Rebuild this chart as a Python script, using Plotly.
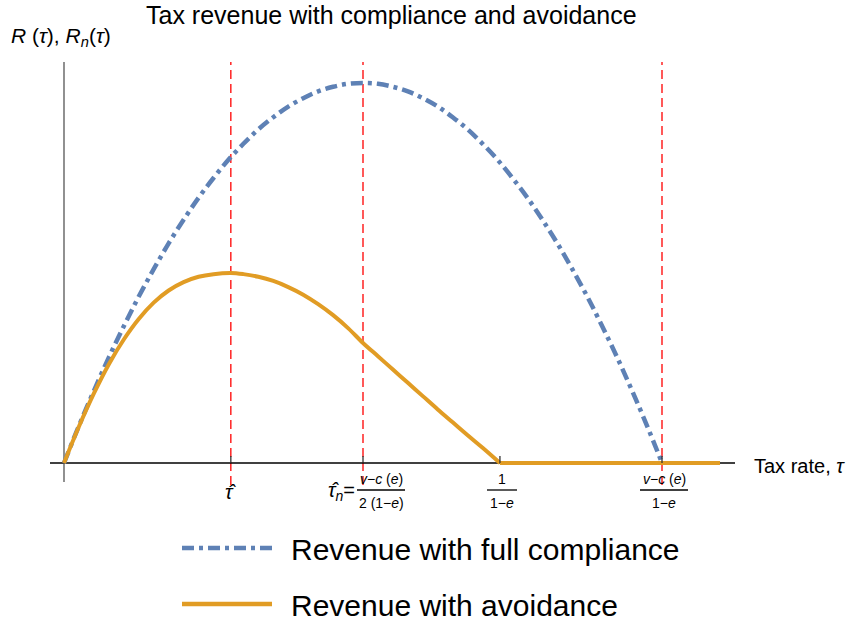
import plotly.graph_objects as go

# ---------------- data ----------------
tau_full = [0.0, 0.025, 0.05, 0.075, 0.10, 0.125, 0.15, 0.175, 0.20, 0.225, 0.25,
            0.275, 0.30, 0.325, 0.35, 0.375, 0.40, 0.425, 0.45, 0.475, 0.50,
            0.525, 0.55, 0.575, 0.60, 0.625, 0.65, 0.675, 0.70, 0.725, 0.75,
            0.775, 0.80, 0.825, 0.85, 0.875, 0.90, 0.925, 0.95, 0.975, 1.00]
rev_full = [0.0, 0.098, 0.19, 0.278, 0.36, 0.438, 0.51, 0.578, 0.64, 0.698, 0.75,
            0.798, 0.84, 0.878, 0.91, 0.938, 0.96, 0.978, 0.99, 0.998, 1.00,
            0.998, 0.99, 0.978, 0.96, 0.938, 0.91, 0.878, 0.84, 0.798, 0.75,
            0.698, 0.64, 0.578, 0.51, 0.438, 0.36, 0.278, 0.19, 0.098, 0.0]

tau_avoid = [0.0, 0.025, 0.05, 0.075, 0.10, 0.125, 0.15, 0.175, 0.20, 0.225, 0.25,
             0.279, 0.30, 0.325, 0.35, 0.375, 0.40, 0.425, 0.45, 0.475, 0.50,
             0.525, 0.55, 0.575, 0.60, 0.625, 0.65, 0.675, 0.70, 0.729, 1.097]
rev_avoid = [0.0, 0.096, 0.183, 0.26, 0.325, 0.379, 0.422, 0.454, 0.476, 0.49, 0.497,
             0.50, 0.497, 0.49, 0.479, 0.463, 0.443, 0.418, 0.389, 0.355, 0.316,
             0.281, 0.246, 0.211, 0.176, 0.141, 0.107, 0.073, 0.04, 0.0, 0.0]

tick_positions = [0.279, 0.50, 0.729, 1.00]          # tau_hat, tau_hat_n, 1/(1-e), (v-c(e))/(1-e)
gridline_positions = [0.279, 0.50, 1.00]

series_names = ["Revenue with full compliance", "Revenue with avoidance"]
title_text = "Tax revenue with compliance and avoidance"
x_label = "Tax rate, <i>τ</i>"
y_label = "<i>R</i> (<i>τ</i>), <i>R<sub>n</sub></i>(<i>τ</i>)"

# ---------------- styling ----------------
W, H = 853, 625
BLUE = "#5E81B5"
ORANGE = "#E19C24"
FONT = "Liberation Sans, Arial, sans-serif"
BLUE_DASH = "12px,5px,4px,5px"

# pixel mapping of the frame (plot area covers whole figure)
X0PX, XSCALE = 64, 598.0
Y0PX, YSCALE = 463, 380.0
xr = [(0 - X0PX) / XSCALE, (W - X0PX) / XSCALE]
yr = [(Y0PX - H) / YSCALE, Y0PX / YSCALE]


def dy(py):
    return (Y0PX - py) / YSCALE


def dx(px):
    return (px - X0PX) / XSCALE


def pxp(px):
    return px / W


def pyp(py):
    return 1 - py / H


fig = go.Figure()

fig.add_trace(go.Scatter(x=tau_full, y=rev_full, mode="lines", name=series_names[0],
                         line=dict(color=BLUE, width=4.5, dash=BLUE_DASH,
                                   shape="spline", smoothing=1.0),
                         hoverinfo="skip", showlegend=False))

# avoidance curve: smooth hump up to where it reaches zero, then the flat tail
k0 = rev_avoid.index(0.0, 1)
fig.add_trace(go.Scatter(x=tau_avoid[:k0 + 1], y=rev_avoid[:k0 + 1], mode="lines",
                         name=series_names[1],
                         line=dict(color=ORANGE, width=4, shape="spline", smoothing=1.0),
                         hoverinfo="skip", showlegend=False))
fig.add_trace(go.Scatter(x=tau_avoid[k0:], y=rev_avoid[k0:], mode="lines",
                         name=series_names[1],
                         line=dict(color=ORANGE, width=4),
                         hoverinfo="skip", showlegend=False))

shapes = []
# red dashed guide lines
for g in gridline_positions:
    shapes.append(dict(type="line", xref="x", yref="y", x0=g, x1=g, y0=dy(485), y1=dy(62),
                       line=dict(color="#FF0000", width=1.3, dash="9px,5px"), layer="below"))
# axes
shapes.append(dict(type="line", xref="x", yref="y", x0=dx(50), x1=dx(735), y0=0, y1=0,
                   line=dict(color="#000000", width=1.3), layer="below"))
shapes.append(dict(type="line", xref="x", yref="y", x0=0, x1=0, y0=dy(482), y1=dy(62),
                   line=dict(color="#555555", width=1.3), layer="below"))
# tick marks
for t in tick_positions:
    shapes.append(dict(type="line", xref="x", yref="y", x0=t, x1=t, y0=0, y1=dy(456),
                       line=dict(color="#333333", width=1.3)))

ann = []
# title and axis labels
ann.append(dict(text=title_text, xref="paper", yref="paper", x=pxp(144), y=pyp(15),
                xanchor="left", yanchor="middle", showarrow=False,
                font=dict(family=FONT, size=25, color="black")))
ann.append(dict(text=y_label, xref="paper", yref="paper", x=pxp(9), y=pyp(37),
                xanchor="left", yanchor="middle", showarrow=False,
                font=dict(family=FONT, size=21, color="black")))
ann.append(dict(text=x_label, xref="paper", yref="paper", x=pxp(752), y=pyp(466),
                xanchor="left", yanchor="middle", showarrow=False,
                font=dict(family=FONT, size=20, color="black")))

# tick labels
ann.append(dict(text="<i>τ̂</i>", xref="x", yref="paper", x=tick_positions[0], y=pyp(492),
                xanchor="center", yanchor="middle", showarrow=False,
                font=dict(family=FONT, size=20, color="black")))
ann.append(dict(text="<i>τ̂<sub>n</sub></i>=", xref="paper", yref="paper", x=pxp(357), y=pyp(491),
                xanchor="right", yanchor="middle", showarrow=False,
                font=dict(family=FONT, size=20, color="black")))


def fraction(xc, num, den, half):
    ann.append(dict(text=num, xref="paper", yref="paper", x=pxp(xc), y=pyp(479),
                    xanchor="center", yanchor="middle", showarrow=False,
                    font=dict(family=FONT, size=14, color="black")))
    ann.append(dict(text=den, xref="paper", yref="paper", x=pxp(xc), y=pyp(503),
                    xanchor="center", yanchor="middle", showarrow=False,
                    font=dict(family=FONT, size=14, color="black")))
    shapes.append(dict(type="line", xref="paper", yref="paper", x0=pxp(xc - half), x1=pxp(xc + half),
                       y0=pyp(490), y1=pyp(490), line=dict(color="black", width=1.3)))


fraction(381, "<i>v</i>−<i>c</i> (<i>e</i>)", "2 (1−<i>e</i>)", 24)
fraction(502, "1", "1−<i>e</i>", 15)
fraction(664, "<i>v</i>−<i>c</i> (<i>e</i>)", "1−<i>e</i>", 24)

# legend
legend_rows = [(548, BLUE, BLUE_DASH, 4.5), (604, ORANGE, "solid", 4.5)]
for (py, col, dash, w), name in zip(legend_rows, series_names):
    shapes.append(dict(type="line", xref="paper", yref="paper", x0=pxp(182), x1=pxp(272),
                       y0=pyp(py), y1=pyp(py), line=dict(color=col, width=w, dash=dash)))
    ann.append(dict(text=name, xref="paper", yref="paper", x=pxp(289), y=pyp(py + 1),
                    xanchor="left", yanchor="middle", showarrow=False,
                    font=dict(family=FONT, size=30, color="black")))

fig.update_layout(
    width=W, height=H,
    margin=dict(l=0, r=0, t=0, b=0),
    paper_bgcolor="white", plot_bgcolor="white",
    xaxis=dict(range=xr, visible=False, fixedrange=True),
    yaxis=dict(range=yr, visible=False, fixedrange=True),
    shapes=shapes, annotations=ann, showlegend=False,
)

fig.write_html("out.html", config={"displayModeBar": False},
               post_script="document.body.style.margin='0px';document.body.style.overflow='hidden';")
